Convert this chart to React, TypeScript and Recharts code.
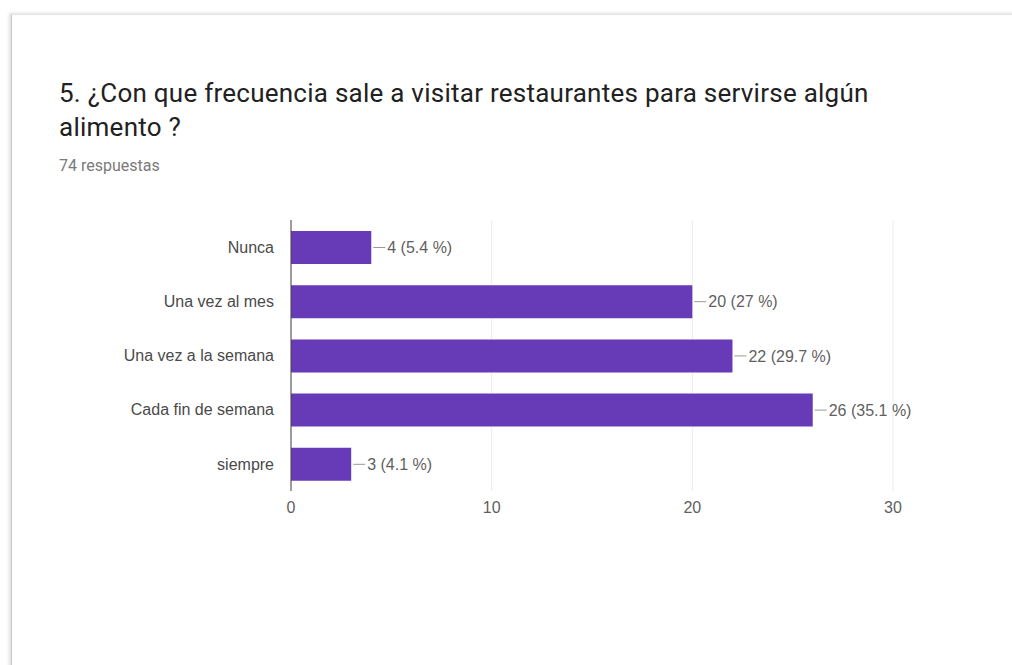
import React from 'react';
import { BarChart, Bar, XAxis, YAxis, CartesianGrid, LabelList } from 'recharts';

const categories = ['Nunca', 'Una vez al mes', 'Una vez a la semana', 'Cada fin de semana', 'siempre'];
const counts = [4, 20, 22, 26, 3];
const percents = ['5.4', '27', '29.7', '35.1', '4.1'];
const xTicks = [0, 10, 20, 30];

const BAR_COLOR = '#673ab7';
const CHART_FONT = 'Arial, "Liberation Sans", sans-serif';

const data = categories.map((name, i) => ({ name, value: counts[i], pct: percents[i] }));

// leader line + "n (p %)" text to the right of each bar
const ValueLabel = (props: any) => {
  const { x, y, width, height, index } = props;
  const endX = x + width;
  const midY = y + height / 2;
  const d = data[index];
  return (
    <g>
      <line x1={endX + 2} y1={midY} x2={endX + 14} y2={midY} stroke="#999" strokeWidth={1} />
      <text x={endX + 16} y={midY} dy="0.35em" fill="#5f5f5f" fontSize={16} fontFamily={CHART_FONT}>
        {`${d.value} (${d.pct} %)`}
      </text>
    </g>
  );
};

const App: React.FC = () => {
  return (
    <div style={{ position: 'absolute', left: 0, top: 0, width: 1012, height: 665, overflow: 'hidden', background: '#fff' }}>
      <div
        style={{
          position: 'absolute',
          left: 11,
          top: 14,
          width: 1100,
          height: 800,
          borderLeft: '1px solid #c8c8c8',
          borderTop: '1px solid #e4e4e4',
          boxShadow: '-2px -1px 3px rgba(0,0,0,0.12)',
          background: '#fff',
        }}
      />
      <div
        style={{
          position: 'absolute',
          left: 59,
          top: 76,
          width: 860,
          fontFamily: 'Roboto, sans-serif',
          fontSize: 26,
          lineHeight: '34px',
          letterSpacing: '0.25px',
          color: '#212121',
        }}
      >
        5. ¿Con que frecuencia sale a visitar restaurantes para servirse algún alimento ?
      </div>
      <div
        style={{
          position: 'absolute',
          left: 59,
          top: 156,
          fontFamily: 'Roboto, sans-serif',
          fontSize: 16,
          color: '#7a7a7a',
        }}
      >
        74 respuestas
      </div>
      <div style={{ position: 'absolute', left: 0, top: 0 }}>
        <BarChart
          width={1012}
          height={540}
          data={data}
          layout="vertical"
          margin={{ top: 220, right: 119, bottom: 19, left: 91 }}
        >
          <CartesianGrid horizontal={false} stroke="#ececec" />
          <XAxis
            type="number"
            domain={[0, 30]}
            ticks={xTicks}
            axisLine={false}
            tickLine={false}
            tickSize={0}
            tickMargin={11}
            height={30}
            tick={{ fill: '#5f5f5f', fontSize: 16, fontFamily: CHART_FONT }}
          />
          <YAxis
            type="category"
            dataKey="name"
            width={200}
            axisLine={{ stroke: '#444' }}
            tickLine={false}
            tickSize={0}
            tickMargin={17}
            tick={{ fill: '#4a4a4a', fontSize: 16, fontFamily: CHART_FONT }}
          />
          <Bar dataKey="value" fill={BAR_COLOR} barSize={33} isAnimationActive={false}>
            <LabelList dataKey="value" content={<ValueLabel />} />
          </Bar>
        </BarChart>
      </div>
    </div>
  );
};

export default App;
